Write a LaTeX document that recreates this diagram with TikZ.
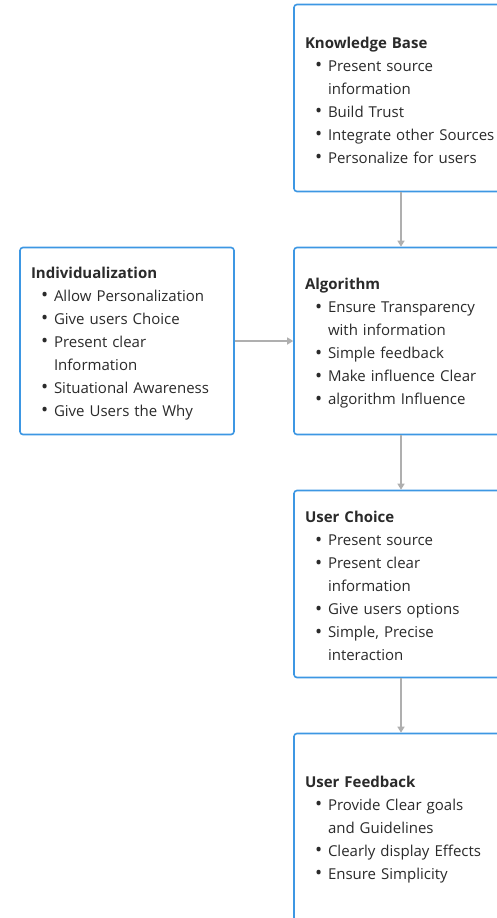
\documentclass[tikz,border=0pt]{standalone}
\usepackage{fontspec}
\setmainfont{Open Sans}
\usepackage{tikz}
\usetikzlibrary{arrows.meta}
\usetikzlibrary{positioning}

\definecolor{boxblue}{HTML}{3D97E3}
\definecolor{txtgray}{HTML}{2A2A2A}
\definecolor{arrgray}{HTML}{AFAFAF}

\newcommand{\ttl}[1]{\rule{0pt}{16pt}\textbf{#1}}
\newcommand{\itm}[1]{\hspace*{10pt}\makebox[13pt][l]{\raisebox{-0.5pt}{\fontsize{19}{23}\selectfont\textbullet}}#1}
\newcommand{\cnt}[1]{\hspace*{23pt}#1}

\tikzset{
  card/.style={draw=boxblue, line width=1.6pt, rounded corners=3pt, fill=white,
    minimum width=214pt, minimum height=187pt, text width=192pt, align=left,
    inner xsep=11pt, text=txtgray, font=\fontsize{15}{23}\selectfont},
  flow/.style={draw=arrgray, line width=1.3pt, -{Triangle[width=7pt,length=6pt]}}
}

\begin{document}
\begin{tikzpicture}[x=1pt,y=-1pt]
\useasboundingbox (0,0) rectangle (497,918);
\clip (0,0) rectangle (497,918);

\node [card] (kb) at (401,98) {\ttl{Knowledge Base}\\
  \itm{Present source}\\ \cnt{information}\\ \itm{Build Trust}\\
  \itm{Integrate other Sources}\\ \itm{Personalize for users}};

\node [card] (algo) at (401,341) {\ttl{Algorithm}\\
  \itm{Ensure Transparency}\\ \cnt{with information}\\ \itm{Simple feedback}\\
  \itm{Make influence Clear}\\ \itm{algorithm Influence}};

\node [card] (indiv) at (127,341) {\ttl{Individualization}\\
  \itm{Allow Personalization}\\ \itm{Give users Choice}\\ \itm{Present clear}\\
  \cnt{Information}\\ \itm{Situational Awareness}\\ \itm{Give Users the Why}};

\node [card] (uc) at (401,584) {\ttl{User Choice}\\
  \itm{Present source}\\ \itm{Present clear}\\ \cnt{information}\\
  \itm{Give users options}\\ \itm{Simple, Precise}\\ \cnt{interaction}};

\node [card] (uf) at (401,827) {\ttl{User Feedback}\\
  \itm{Provide Clear goals}\\ \cnt{and Guidelines}\\
  \itm{Clearly display Effects}\\ \itm{Ensure Simplicity}};

\draw [flow] (kb) -- (algo);
\draw [flow] (algo) -- (uc);
\draw [flow] (uc) -- (uf);
\draw [flow] (indiv) -- (algo);
\end{tikzpicture}
\end{document}
